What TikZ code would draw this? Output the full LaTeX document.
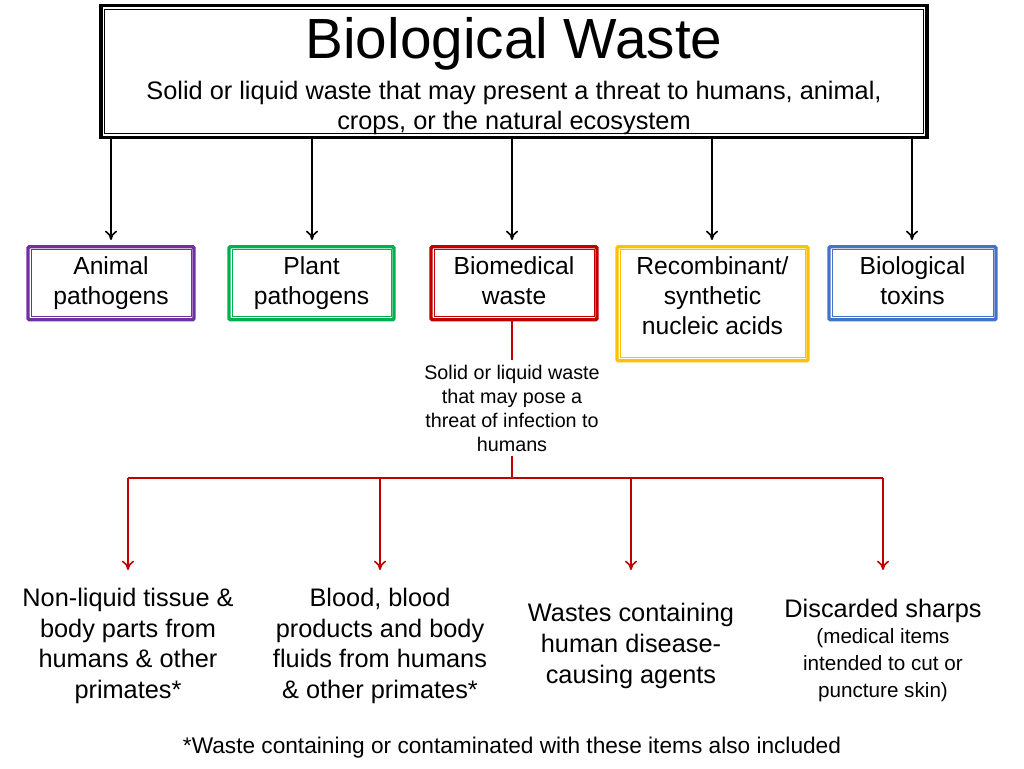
\documentclass[tikz,border=0pt]{standalone}
\usepackage{fontspec}
\setmainfont{Liberation Sans}
\usetikzlibrary{arrows.meta,calc}
\definecolor{cpurple}{RGB}{112,48,160}
\definecolor{cgreen}{RGB}{0,176,80}
\definecolor{cred}{RGB}{192,0,0}
\definecolor{cyellow}{RGB}{255,192,0}
\definecolor{cblue}{RGB}{68,114,196}
\tikzset{
  cat/.style={draw=#1, line width=2.6pt, rounded corners=1pt, inner sep=0pt},
  inner/.style={draw=#1, line width=0.6pt},
  arr/.style={line width=1.2pt, -{To[length=7pt,width=9pt]}},
  rarr/.style={draw=cred, line width=1.2pt, -{To[length=7pt,width=9pt]}},
  leaf/.style={align=center, font=\fontsize{19}{23}\selectfont},
}
\begin{document}
\begin{tikzpicture}[x=0.75pt,y=-0.75pt]
\useasboundingbox (0,0) rectangle (1024,768);
% top box
\node[draw, line width=2.6pt, minimum width=826*0.75pt, minimum height=132*0.75pt,
  inner sep=0pt] (top) at (514,71.5) {};
\draw[line width=0.7pt] ($(top.south west)+(4pt,4pt)$) rectangle ($(top.north east)+(-4pt,-4pt)$);
\node[font=\fontsize{42.5}{48}\selectfont] (title) at (514,44) {Biological Waste};
\node[align=center, font=\fontsize{19}{22.5}\selectfont] (sub) at (514,108)
  {Solid or liquid waste that may present a threat to humans, animal,\\crops, or the natural ecosystem};
% category boxes
\foreach \n/\c/\x/\w/\h/\t in {
  anim/cpurple/111/166/73/{Animal\\pathogens},
  plant/cgreen/311.5/165/73/{Plant\\pathogens},
  biomed/cred/514/166/73/{Biomedical\\waste},
  recomb/cyellow/712.5/191/114/{Recombinant/\\synthetic\\nucleic acids},
  toxin/cblue/912.5/167/73/{Biological\\toxins}}{
  \node[cat=\c, minimum width=\w*0.75pt, minimum height=\h*0.75pt, anchor=north] (\n) at (\x,245) {};
  \draw[inner=\c] ($(\n.south west)+(3.5pt,3.5pt)$) rectangle ($(\n.north east)+(-3.5pt,-3.5pt)$);
  \node[align=center, font=\fontsize{18.5}{22.5}\selectfont, anchor=north] at ($(\n.north)+(0,-5pt)$) {\t};
}
% arrows from top box
\foreach \x in {111, 312, 512, 712, 912}
  \draw[arr] (\x,138) -- (\x,240);
% biomedical description
\node[align=center, font=\fontsize{14.8}{18}\selectfont] (desc) at (512,408)
  {Solid or liquid waste\\that may pose a\\threat of infection to\\humans};
\draw[cred, line width=1.2pt] (512,319) -- (desc.north);
\coordinate (j) at (512,478);
\draw[cred, line width=1.2pt] (desc.south) -- (j);
\draw[cred, line width=1.2pt] (128,478) -- (883,478);
% leaves
\node[leaf] (l1) at (128,646) {Non-liquid tissue \&\\body parts from\\humans \& other\\primates*};
\node[leaf] (l2) at (380,646) {Blood, blood\\products and body\\fluids from humans\\\& other primates*};
\node[leaf] (l3) at (631,646) {Wastes containing\\human disease-\\causing agents};
\node[align=center, font=\fontsize{15.5}{20}\selectfont] (l4) at (883,650)
  {{\fontsize{19}{23}\selectfont Discarded sharps}\\(medical items\\intended to cut or\\puncture skin)};
\foreach \x in {128,380,631,883}
  \draw[rarr] (\x,478) -- (\x,570);
\node[font=\fontsize{17}{20}\selectfont] (foot) at (512,748)
  {*Waste containing or contaminated with these items also included};
\end{tikzpicture}
\end{document}
